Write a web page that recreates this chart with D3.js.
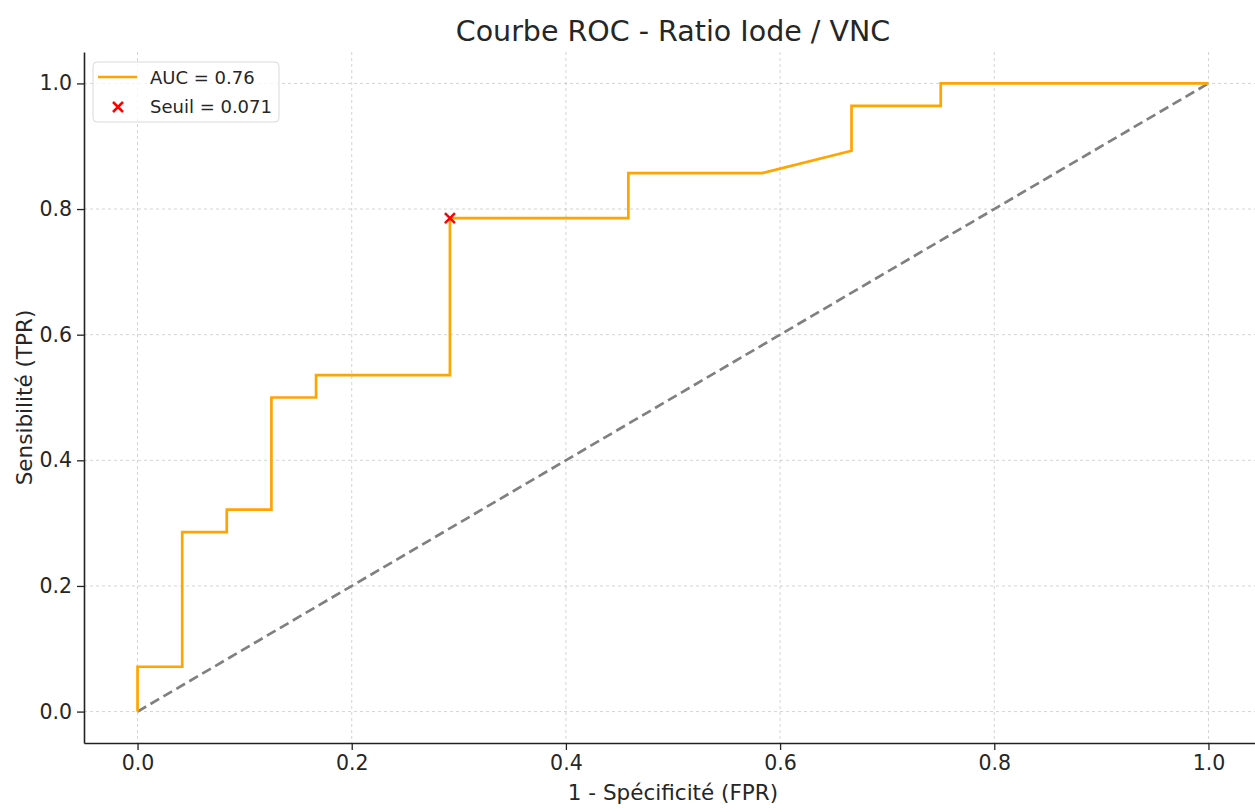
<!DOCTYPE html>
<html>
<head>
<meta charset="utf-8">
<script src="https://cdn.jsdelivr.net/npm/d3@7"></script>
<style>
  html, body { margin: 0; padding: 0; background: #fff; }
  svg { display: block; font-family: "DejaVu Sans", sans-serif; }
</style>
</head>
<body>
<svg id="chart" width="1255" height="808"></svg>
<script>
// ROC points (FPR, TPR)
const fpr = [0, 0, 0.0417, 0.0417, 0.0833, 0.0833, 0.125, 0.125, 0.1667, 0.1667, 0.2917, 0.2917, 0.4583, 0.4583, 0.5833, 0.6667, 0.6667, 0.75, 0.75, 1];
const tpr = [0, 0.0714, 0.0714, 0.2857, 0.2857, 0.3214, 0.3214, 0.5, 0.5, 0.5357, 0.5357, 0.7857, 0.7857, 0.8571, 0.8571, 0.8929, 0.9643, 0.9643, 1, 1];
const thresholdPoint = [0.2917, 0.7857];
const ticks = [0, 0.2, 0.4, 0.6, 0.8, 1.0];
const aucLabel = "AUC = 0.76";
const seuilLabel = "Seuil = 0.071";

const svg = d3.select("#chart");
const margin = { left: 84, right: -7, top: 52, bottom: 65 };
const width = 1255, height = 808;

const x = d3.scaleLinear().domain([-0.05, 1.05]).range([margin.left, width - margin.right]);
const y = d3.scaleLinear().domain([-0.05, 1.05]).range([height - margin.bottom, margin.top]);

// grid
const grid = svg.append("g").attr("stroke", "#b0b0b0").attr("stroke-opacity", 0.7)
  .attr("stroke-width", 0.8).attr("stroke-dasharray", "3,3");
grid.selectAll("line.gx").data(ticks).join("line")
  .attr("x1", d => x(d)).attr("x2", d => x(d))
  .attr("y1", y.range()[1]).attr("y2", y.range()[0]);
grid.selectAll("line.gy").data(ticks).join("line")
  .attr("y1", d => y(d)).attr("y2", d => y(d))
  .attr("x1", x.range()[0]).attr("x2", x.range()[1]);

// diagonal reference
svg.append("line")
  .attr("x1", x(0)).attr("y1", y(0)).attr("x2", x(1)).attr("y2", y(1))
  .attr("stroke", "#808080").attr("stroke-width", 2.7).attr("stroke-dasharray", "10,5");

// ROC curve
const pts = fpr.map((f, i) => [f, tpr[i]]);
svg.append("path")
  .datum(pts)
  .attr("fill", "none")
  .attr("stroke", "#ffa500")
  .attr("stroke-width", 2.7)
  .attr("stroke-linejoin", "miter")
  .attr("d", d3.line().x(d => x(d[0])).y(d => y(d[1])));

// threshold marker
function cross(g, cx, cy, r) {
  g.append("path")
    .attr("d", `M${cx - r},${cy - r}L${cx + r},${cy + r}M${cx - r},${cy + r}L${cx + r},${cy - r}`)
    .attr("stroke", "#ff0000").attr("stroke-width", 2.5).attr("fill", "none");
}
cross(svg, x(thresholdPoint[0]), y(thresholdPoint[1]), 5);

// axes
const xAxis = svg.append("g")
  .attr("transform", `translate(0,${height - margin.bottom})`)
  .call(d3.axisBottom(x).tickValues(ticks).tickFormat(d3.format(".1f")).tickSize(7).tickPadding(5).tickSizeOuter(0));
const yAxis = svg.append("g")
  .attr("transform", `translate(${margin.left},0)`)
  .call(d3.axisLeft(y).tickValues(ticks).tickFormat(d3.format(".1f")).tickSize(7).tickPadding(5).tickSizeOuter(0));
[xAxis, yAxis].forEach(a => {
  a.select(".domain").attr("stroke", "#222").attr("stroke-width", 1.6);
  a.selectAll(".tick line").attr("stroke", "#222").attr("stroke-width", 1.3);
  a.selectAll(".tick text").attr("fill", "#262626").style("font-size", "20.5px").style("font-family", "DejaVu Sans");
});

// title and labels
svg.append("text")
  .attr("x", (x.range()[0] + x.range()[1]) / 2).attr("y", 41)
  .attr("text-anchor", "middle").attr("fill", "#262626")
  .style("font-size", "28.5px").text("Courbe ROC - Ratio Iode / VNC");
svg.append("text")
  .attr("x", (x.range()[0] + x.range()[1]) / 2).attr("y", 800)
  .attr("text-anchor", "middle").attr("fill", "#262626")
  .style("font-size", "21.5px").text("1 - Spécificité (FPR)");
svg.append("text")
  .attr("transform", `translate(32,${(y.range()[0] + y.range()[1]) / 2}) rotate(-90)`)
  .attr("text-anchor", "middle").attr("fill", "#262626")
  .style("font-size", "21.5px").text("Sensibilité (TPR)");

// legend
const lg = svg.append("g").attr("transform", "translate(93,62)");
lg.append("rect")
  .attr("width", 186).attr("height", 60).attr("rx", 4)
  .attr("fill", "#fff").attr("fill-opacity", 0.8)
  .attr("stroke", "#d9d9d9").attr("stroke-width", 1);
lg.append("line").attr("x1", 5).attr("x2", 44).attr("y1", 15).attr("y2", 15)
  .attr("stroke", "#ffa500").attr("stroke-width", 2.7);
cross(lg, 25, 45, 5);
lg.append("text").attr("x", 57).attr("y", 22).attr("fill", "#262626")
  .style("font-size", "18px").text(aucLabel);
lg.append("text").attr("x", 57).attr("y", 51).attr("fill", "#262626")
  .style("font-size", "18px").text(seuilLabel);
</script>
</body>
</html>
